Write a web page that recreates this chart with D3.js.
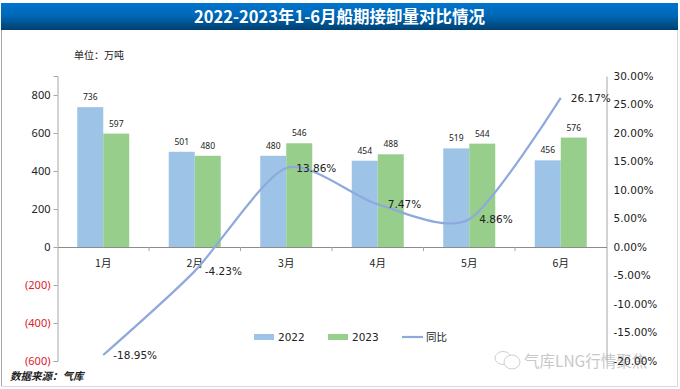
<!DOCTYPE html>
<html>
<head>
<meta charset="utf-8">
<script src="https://cdn.jsdelivr.net/npm/d3@7"></script>
<style>
  html, body { margin: 0; padding: 0; background: #fff; }
  svg { display: block; }
  text { font-family: "Noto Sans", "Noto Sans CJK SC", sans-serif; fill: #222; }
  .pct { font-family: "DejaVu Sans", sans-serif; }
  .cjk { font-family: "Noto Sans CJK SC", sans-serif; }
</style>
</head>
<body>
<div id="chart"></div>
<script>
// Chart data
const months = ['1月', '2月', '3月', '4月', '5月', '6月'];
const volume2022 = [736, 501, 480, 454, 519, 456];
const volume2023 = [597, 480, 546, 488, 544, 576];
const yoy = [-18.95, -4.23, 13.86, 7.47, 4.86, 26.17];
const leftTicks = [800, 600, 400, 200, 0, -200, -400, -600];
const rightTicks = [30, 25, 20, 15, 10, 5, 0, -5, -10, -15, -20];

const color2022 = '#9dc3e6';
const color2023 = '#98ce8c';
const colorLine = '#8ea9db';

const svg = d3.select('#chart').append('svg')
  .attr('width', 680)
  .attr('height', 389);

// Title bar gradient
const grad = svg.append('defs').append('linearGradient')
  .attr('id', 'titleGrad')
  .attr('x1', 0).attr('y1', 0).attr('x2', 0).attr('y2', 1);
grad.append('stop').attr('offset', '0%').attr('stop-color', '#0074cc');
grad.append('stop').attr('offset', '45%').attr('stop-color', '#0068b8');
grad.append('stop').attr('offset', '100%').attr('stop-color', '#00406f');

// Outer frame
svg.append('path')
  .attr('d', 'M1.5,30V386.5H677.5V30')
  .attr('fill', 'none')
  .attr('stroke', '#d8d8d8');
svg.append('line')
  .attr('x1', 1.5).attr('x2', 1.5).attr('y1', 30).attr('y2', 386)
  .attr('stroke', '#a6a6a6');

svg.append('rect')
  .attr('x', 1).attr('y', 3)
  .attr('width', 677).attr('height', 27)
  .attr('fill', 'url(#titleGrad)');

svg.append('text')
  .attr('class', 'cjk')
  .attr('x', 339.5).attr('y', 22.5)
  .attr('text-anchor', 'middle')
  .attr('font-size', 16.5)
  .attr('font-weight', 700)
  .style('fill', '#fff')
  .text('2022-2023年1-6月船期接卸量对比情况');

svg.append('text')
  .attr('class', 'cjk')
  .attr('x', 74).attr('y', 59)
  .attr('font-size', 10)
  .text('单位：万吨');

// Scales
const x0 = d3.scaleBand().domain(months).range([57.5, 606.5]);
const x1 = d3.scaleBand().domain([0, 1]).range([0, 52]);
const barOffset = (x0.bandwidth() - 52) / 2;

const yLeft = d3.scaleLinear().domain([-600, 900]).range([361, 76]);
const yRight = d3.scaleLinear().domain([-20, 30]).range([361, 76]);

// Watermark sits under the axis labels
const mark = svg.append('g');
mark.append('ellipse').attr('cx', 503).attr('cy', 358).attr('rx', 8).attr('ry', 6.5)
  .attr('fill', '#fff').attr('stroke', '#cfcfcf');
mark.append('ellipse').attr('cx', 512).attr('cy', 362).attr('rx', 8).attr('ry', 7)
  .attr('fill', '#fff').attr('stroke', '#cfcfcf');
mark.append('text')
  .attr('class', 'cjk')
  .attr('x', 524).attr('y', 367)
  .attr('font-size', 15.5)
  .style('fill', '#c8c8c8')
  .text('气库LNG行情聚焦');

// Bars
[volume2022, volume2023].forEach((series, s) => {
  const fill = s === 0 ? color2022 : color2023;
  const g = svg.append('g');

  g.selectAll('rect')
    .data(series)
    .enter()
    .append('rect')
    .attr('x', (d, i) => x0(months[i]) + barOffset + x1(s))
    .attr('width', x1.bandwidth())
    .attr('y', d => yLeft(d))
    .attr('height', d => yLeft(0) - yLeft(d))
    .attr('fill', fill);

  g.selectAll('text')
    .data(series)
    .enter()
    .append('text')
    .attr('x', (d, i) => x0(months[i]) + barOffset + x1(s) + x1.bandwidth() / 2)
    .attr('y', d => yLeft(d) - 7)
    .attr('text-anchor', 'middle')
    .attr('font-size', 8.5)
    .text(d => d);
});

// Left axis
const leftAxis = svg.append('g')
  .attr('transform', 'translate(57.5,0)')
  .call(d3.axisLeft(yLeft).tickValues(leftTicks).tickSize(4).tickPadding(3)
    .tickFormat(d => d < 0 ? `(${-d})` : d));
leftAxis.select('.domain').attr('stroke', '#a6a6a6');
leftAxis.selectAll('line').attr('stroke', '#a6a6a6');
leftAxis.selectAll('text')
  .attr('font-size', 11)
  .style('fill', d => d < 0 ? '#e0202a' : '#222');

// Right axis
const rightAxis = svg.append('g')
  .attr('transform', 'translate(606.5,0)')
  .call(d3.axisRight(yRight).tickValues(rightTicks).tickSize(0).tickPadding(7)
    .tickFormat(d => d.toFixed(2) + '%'));
rightAxis.select('.domain').attr('stroke', '#a6a6a6');
rightAxis.selectAll('text')
  .attr('class', 'pct')
  .attr('font-size', 10.5);

// Category axis at zero
const xAxis = svg.append('g')
  .attr('transform', `translate(0,${yLeft(0)})`)
  .call(d3.axisBottom(x0).tickSize(0).tickPadding(9));
xAxis.select('.domain').attr('stroke', '#8c8c8c');
xAxis.selectAll('text').attr('class', 'cjk').attr('font-size', 10.5).attr('dy', '1.05em');
xAxis.selectAll('.sep')
  .data(months.slice(1))
  .enter()
  .append('line')
  .attr('x1', d => x0(d))
  .attr('x2', d => x0(d))
  .attr('y1', 0)
  .attr('y2', 4)
  .attr('stroke', '#a6a6a6');

// Year on year line
const line = d3.line()
  .x((d, i) => x0(months[i]) + x0.bandwidth() / 2)
  .y(d => yRight(d))
  .curve(d3.curveCardinal.tension(0.25));

svg.append('path')
  .datum(yoy)
  .attr('d', line)
  .attr('fill', 'none')
  .attr('stroke', colorLine)
  .attr('stroke-width', 2.2);

svg.append('g').selectAll('text')
  .data(yoy)
  .enter()
  .append('text')
  .attr('class', 'pct')
  .attr('x', (d, i) => x0(months[i]) + x0.bandwidth() / 2 + 10)
  .attr('y', d => yRight(d) + 4)
  .attr('font-size', 10.5)
  .text(d => d.toFixed(2) + '%');

// Legend
const legend = svg.append('g').attr('font-size', 10.5);
legend.append('rect').attr('x', 254).attr('y', 334).attr('width', 20).attr('height', 6).attr('fill', color2022);
legend.append('text').attr('class', 'pct').attr('x', 278).attr('y', 341).text('2022');
legend.append('rect').attr('x', 328).attr('y', 334).attr('width', 20).attr('height', 6).attr('fill', color2023);
legend.append('text').attr('class', 'pct').attr('x', 352).attr('y', 341).text('2023');
legend.append('line').attr('x1', 402).attr('x2', 423).attr('y1', 337).attr('y2', 337)
  .attr('stroke', colorLine).attr('stroke-width', 2.2);
legend.append('text').attr('class', 'cjk').attr('x', 426).attr('y', 341).text('同比');

// Source note
svg.append('text')
  .attr('class', 'cjk')
  .attr('x', 10).attr('y', 380)
  .attr('font-size', 10.5)
  .attr('font-weight', 700)
  .attr('font-style', 'italic')
  .text('数据来源：气库');
</script>
</body>
</html>
